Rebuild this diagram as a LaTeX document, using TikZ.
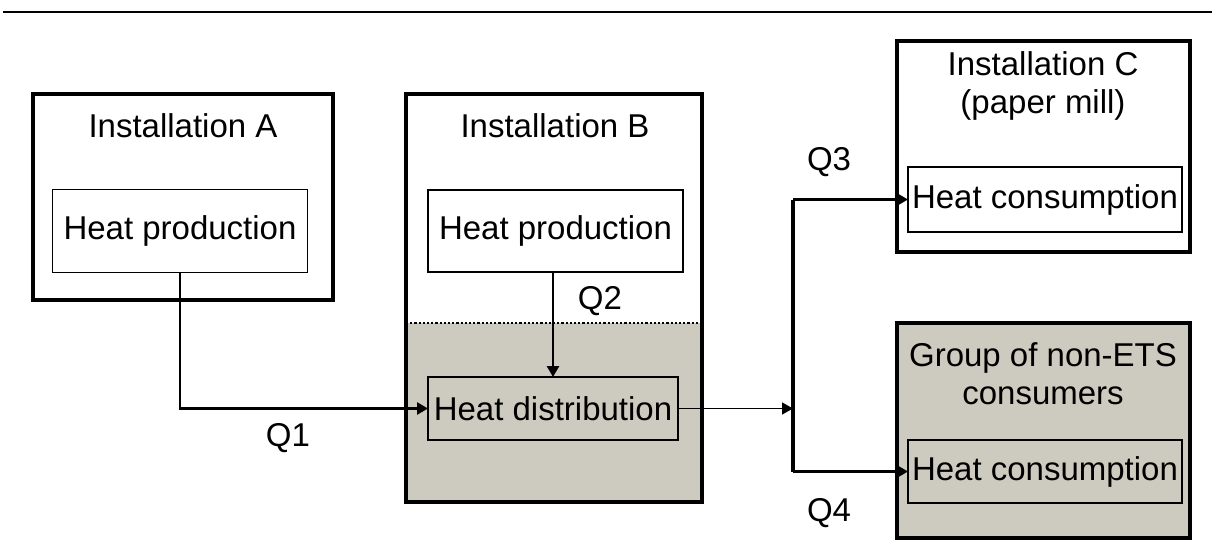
\documentclass[tikz,border=0pt]{standalone}
\usepackage{fontspec}
\setmainfont{Liberation Sans}
\usetikzlibrary{arrows.meta}
\definecolor{shadecol}{RGB}{205,203,191}
\begin{document}
\begin{tikzpicture}[x=1pt,y=-1pt,
  innerbox/.style={draw, line width=1.8pt, inner sep=0pt, outer sep=0pt},
  outerbox/.style={draw, line width=3.5pt, inner sep=0pt, outer sep=0pt},
  lbl/.style={font=\fontsize{33}{38}\selectfont, inner sep=0pt, align=center},
  conn/.style={line width=2.6pt, -{Triangle[length=11pt,width=12pt]}},
  thinconn/.style={line width=1.6pt, -{Triangle[length=11pt,width=12pt]}}]
\useasboundingbox (0,0) rectangle (1212,554);
\draw[line width=2.8pt] (3,12) -- (1212,12);
% shaded areas
\fill[shadecol] (406,323) rectangle (702,502);
\fill[shadecol] (897,323) rectangle (1190,538);
% Installation A
\node[outerbox, minimum width=300pt, minimum height=206pt] (A) at (183,197) {};
\node[lbl] (Alab) at (183,126) {Installation A};
\node[innerbox, minimum width=255pt, minimum height=83pt, lbl] (HPA) at (180,231) {Heat production};
% Installation B
\node[outerbox, minimum width=296pt, minimum height=408pt] (B) at (554,298) {};
\node[lbl] (Blab) at (555,126) {Installation B};
\draw[dotted, line width=2.2pt] (B.west |- 0,323) -- (B.east |- 0,323);
\node[innerbox, minimum width=255pt, minimum height=82pt, lbl] (HPB) at (555.5,231) {Heat production};
\node[innerbox, minimum width=250pt, minimum height=63pt, lbl] (HD) at (553,408.5) {Heat distribution};
% Installation C
\node[outerbox, minimum width=293pt, minimum height=211pt] (C) at (1043.5,146.5) {};
\node[lbl] (Clab) at (1043,86) {Installation C\\(paper mill)};
\node[innerbox, minimum width=274pt, minimum height=65pt, lbl] (HCC) at (1045,199.5) {Heat consumption};
% Group
\node[outerbox, minimum width=293pt, minimum height=215pt] (G) at (1043.5,430.5) {};
\node[lbl] (Glab) at (1043,374) {Group of non-ETS\\consumers};
\node[innerbox, minimum width=274pt, minimum height=63pt, lbl] (HCG) at (1045,471.5) {Heat consumption};
% connectors
\coordinate (J) at (793,408.5);
\coordinate (Jtop) at (793,199.5);
\coordinate (Jbot) at (793,471.5);
\draw[conn] (HPA.south) -- (HPA.south |- HD.west) -- (HD.west);
\draw[conn] (HPB.south -| HD.north) -- (HD.north);
\draw[thinconn] (HD.east) -- (J);
\draw[line width=3.2pt] (Jtop) -- (Jbot);
\draw[conn] (Jtop) -- (HCC.west);
\draw[conn] (Jbot) -- (HCG.west);
% flow labels
\node[lbl] (Q1) at (288,438) {Q1};
\node[lbl] (Q2) at (600,301) {Q2};
\node[lbl] (Q3) at (829,162) {Q3};
\node[lbl] (Q4) at (829,513) {Q4};
\end{tikzpicture}
\end{document}
